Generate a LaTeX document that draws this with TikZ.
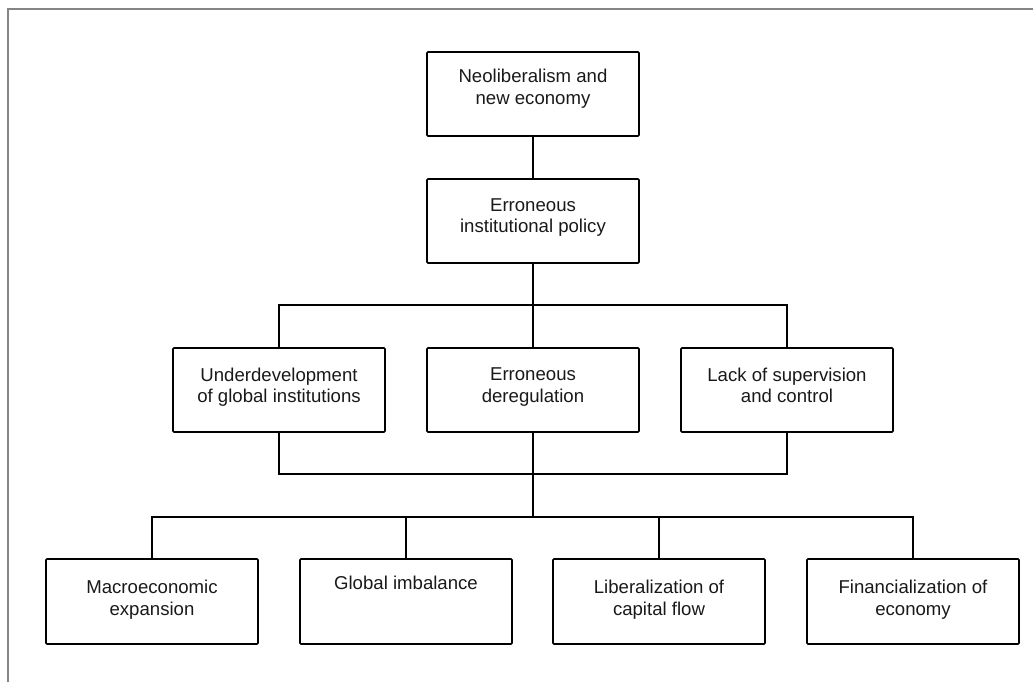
\documentclass[tikz,border=0pt]{standalone}
\usepackage{fontspec}
\setmainfont{Liberation Sans}
\begin{document}
\begin{tikzpicture}[x=1pt,y=-1pt,
  box/.style={draw=black, line width=1.6pt, rounded corners=1pt, minimum width=212pt, minimum height=84pt, inner sep=0pt},
  lbl/.style={anchor=north, inner sep=0pt, align=center, font=\fontsize{18.6}{21.5}\selectfont, text=black!90},
  conn/.style={draw=black, line width=1.1pt},
  frame/.style={draw=black!48, line width=1.4pt}]
\useasboundingbox (0,0) rectangle (1033,682);
\coordinate (ftl) at (8,9);
\coordinate (ftr) at (1033,9);
\coordinate (fbl) at (8,682);
\draw[frame] (fbl) -- (ftl) -- (ftr);
% boxes
\node[box] (b1) at (533,94) {};
\node[box] (b2) at (533,221) {};
\node[box] (m1) at (279,390) {};
\node[box] (m2) at (533,390) {};
\node[box] (m3) at (787,390) {};
\node[box, minimum height=85pt] (c1) at (152,601.5) {};
\node[box, minimum height=85pt] (c2) at (406,601.5) {};
\node[box, minimum height=85pt] (c3) at (659,601.5) {};
\node[box, minimum height=85pt] (c4) at (913,601.5) {};
% texts
\node[lbl, yshift=-18pt] (t1) at (b1.north) {Neoliberalism and\\new economy};
\node[lbl, yshift=-20pt] (t2) at (b2.north) {Erroneous\\institutional policy};
\node[lbl, yshift=-20.5pt] (tm1) at (m1.north) {Underdevelopment\\of global institutions};
\node[lbl, yshift=-20.5pt] (tm2) at (m2.north) {Erroneous\\deregulation};
\node[lbl, yshift=-20.5pt] (tm3) at (m3.north) {Lack of supervision\\and control};
\node[lbl, yshift=-22pt] (tc1) at (c1.north) {Macroeconomic\\expansion};
\node[lbl, yshift=-18pt] (tc2) at (c2.north) {Global imbalance};
\node[lbl, yshift=-22pt] (tc3) at (c3.north) {Liberalization of\\capital flow};
\node[lbl, yshift=-22pt] (tc4) at (c4.north) {Financialization of\\economy};
% connectors
\coordinate (busA) at (533,305);
\coordinate (busB) at (533,474);
\coordinate (busC) at (533,517);
\draw[conn] (b1.south) -- (b2.north);
\draw[conn] (b2.south) -- (m2.north);
\draw[conn] (m1.north) |- (busA) -| (m3.north);
\draw[conn] (m1.south) |- (busB) -| (m3.south);
\draw[conn] (m2.south) -- (busC);
\draw[conn] (c1.north) |- (busC) -| (c4.north);
\draw[conn] (c2.north) -- (c2.north |- busC);
\draw[conn] (c3.north) -- (c3.north |- busC);
\end{tikzpicture}
\end{document}
